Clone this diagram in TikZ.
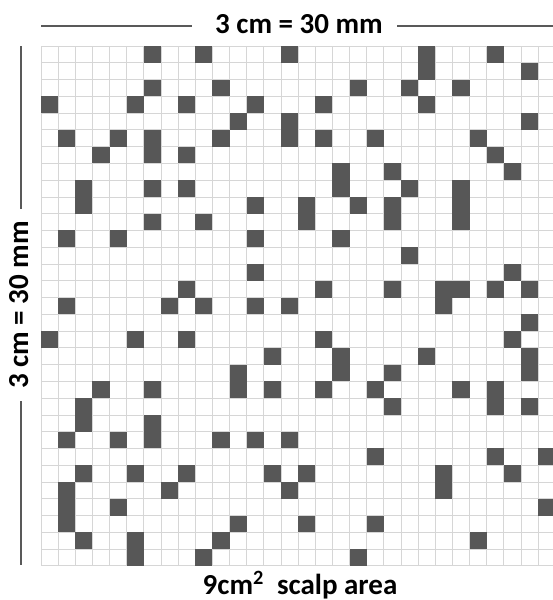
\documentclass[tikz,border=0pt]{standalone}
\usepackage{fontspec}
\setmainfont{Carlito}
\usepackage{tikz}
\definecolor{cellgray}{HTML}{575757}
\definecolor{linegray}{HTML}{D6D6D6}
\tikzset{
  gridline/.style={linegray, line width=0.8pt},
  darkcell/.style={fill=cellgray},
  rule/.style={draw=black!65, line width=1.4pt},
  caption/.style={font=\bfseries\fontsize{29}{29}\selectfont, inner sep=0pt, anchor=base}
}

\begin{document}
\begin{tikzpicture}[x=1pt, y=-1pt]
  \useasboundingbox (0,0) rectangle (553,600);

  % Labels
  \node[caption] (top) at (299,33) {3 cm = 30 mm};
  \node[caption, rotate=90] (side) at (28,305) {3 cm = 30 mm};
  \node[caption] (area) at (300,594) {9cm\textsuperscript{2}\ \ scalp area};

  % Rules next to the labels
  \coordinate (topL) at (41,26);
  \coordinate (topR) at (553,26);
  \coordinate (sideT) at (21,46);
  \coordinate (sideB) at (21,565);
  \draw[rule, shorten >=23pt] (topL) -- (topL -| top.west);
  \draw[rule, shorten <=14pt] (topL -| top.east) -- (topR);
  \draw[rule, shorten >=12pt] (sideT) -- (sideT |- side.east);
  \draw[rule, shorten <=12pt] (sideT |- side.west) -- (sideB);

  \begin{scope}[shift={(41,46)}, x=17.14pt, y=-16.77pt]
    % Grid
    \foreach \i in {0,...,30} \draw[gridline] (\i,0) -- (\i,31);
    \foreach \j in {0,...,31} \draw[gridline] (0,\j) -- (30,\j);

    % Dark cells, row by row
    \foreach \r/\cols in {
        0/{6,9,14,22,26}, 1/{22,28}, 2/{6,10,18,21,24},
        3/{0,5,8,12,16,22}, 4/{11,14,28}, 5/{1,4,6,10,14,16,19,25},
        6/{3,6,8,26}, 7/{17,20,27}, 8/{2,6,8,17,21,24},
        9/{2,12,15,18,20,24}, 10/{6,9,15,20,24}, 11/{1,4,12,17},
        12/{21}, 13/{12,27}, 14/{8,16,20,23,24,26,28},
        15/{1,7,9,12,14,23}, 16/{28}, 17/{0,5,8,16,27},
        18/{13,17,22,28}, 19/{11,17,20,28}, 20/{3,6,11,13,16,19,24,26},
        21/{2,20,26,28}, 22/{2,6}, 23/{1,4,6,10,12,14},
        24/{19,26,29}, 25/{2,5,8,13,15,23,27}, 26/{1,7,14,23},
        27/{1,4,29}, 28/{1,11,15,19}, 29/{2,5,10,25}, 30/{5,9,18}}
      \foreach \c in \cols
        \fill[darkcell] (\c,\r) rectangle ++(1,1);
  \end{scope}
\end{tikzpicture}
\end{document}
